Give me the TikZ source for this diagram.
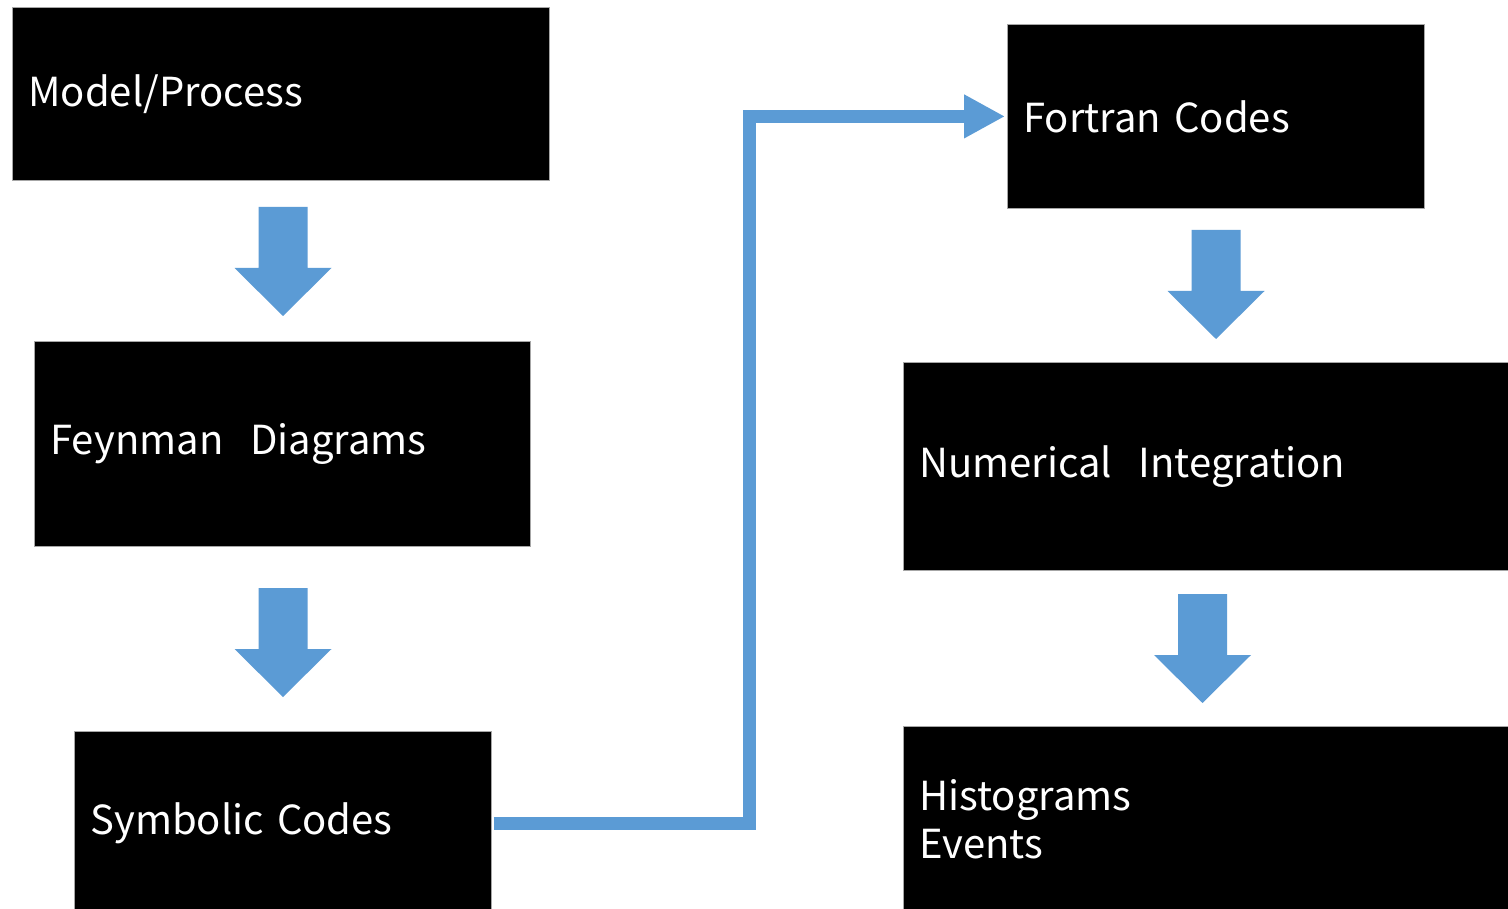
\documentclass[tikz,border=0pt]{standalone}
\usepackage{fontspec}
\setmainfont{Noto Sans CJK JP}
\usetikzlibrary{arrows.meta}
\definecolor{flowblue}{HTML}{5B9BD5}
\tikzset{
  box/.style={fill=black, draw=gray!70, line width=0.8pt, text=white, anchor=north west,
    inner xsep=16pt, inner ysep=0pt, align=left,
    font=\fontsize{40}{48}\selectfont},
  conn/.style={draw=flowblue, line width=13pt, line join=miter, -{Triangle[length=41pt,width=41pt]}},
  darrow/.pic={\fill[flowblue] (-24.5,0) -- (24.5,0) -- (24.5,61) -- (48.5,61) -- (0,109) -- (-48.5,61) -- (-24.5,61) -- cycle;}
}
\begin{document}
\begin{tikzpicture}[x=1pt,y=-1pt]
\clip (0,0) rectangle (1508,909);
\fill[white] (0,0) rectangle (1508,909);
\node[box, minimum width=537, minimum height=173, text width=505] (model) at (12,7) {Model/Process};
\node[box, minimum width=496, minimum height=205, text width=464] (feyn) at (34,341) {Feynman\ \ Diagrams};
\node[box, minimum width=417, minimum height=184, text width=385] (sym) at (74,731) {Symbolic Codes};
\node[box, minimum width=417, minimum height=184, text width=385] (fort) at (1007,24) {Fortran Codes};
\node[box, minimum width=610, minimum height=208, text width=578] (num) at (903,362) {Numerical\ \ Integration};
\node[box, minimum width=610, minimum height=186, text width=578] (hist) at (903,726) {Histograms\\Events};
\pic at (283,207) {darrow};
\pic at (283,588) {darrow};
\pic at (1216,230) {darrow};
\pic at (1202.5,594) {darrow};
\draw[conn] ([xshift=2pt]sym.east) -| ([xshift=-258pt]fort.west) -- ([xshift=-2pt]fort.west);
\end{tikzpicture}
\end{document}
